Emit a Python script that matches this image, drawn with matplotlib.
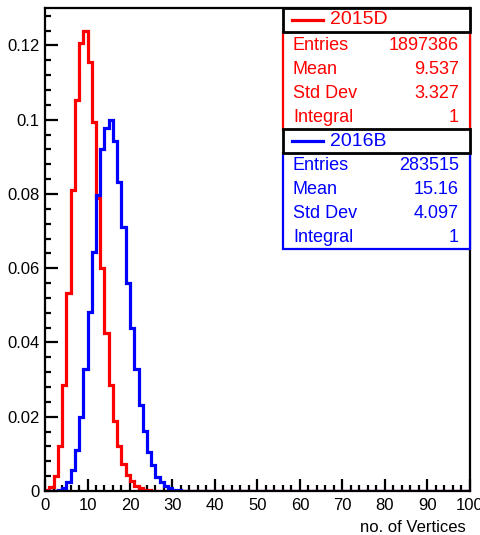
import numpy as np
import matplotlib
matplotlib.use("Agg")
import matplotlib.pyplot as plt
from matplotlib.patches import Rectangle
from matplotlib.ticker import MultipleLocator, FuncFormatter

plt.rcParams['font.family'] = ['Liberation Sans', 'DejaVu Sans']

# ---- data (bin contents, bins of width 1 from 0 to 100) ----
n_bins = 100
x_min, x_max = 0, 100
red_label = "2015D"
red_nonzero = [0.0003, 0.0012, 0.0040, 0.0120, 0.0286, 0.0533, 0.0812, 0.1054,
               0.1207, 0.1239, 0.1155, 0.0993, 0.0790, 0.0600, 0.0425, 0.0286,
               0.0189, 0.0122, 0.0074, 0.0042, 0.0026, 0.0013, 0.0007, 0.0004,
               0.0002, 0.0001]
blue_label = "2016B"
blue_nonzero = [0.0, 0.0, 0.0001, 0.0003, 0.0007, 0.0024, 0.0057, 0.0110,
                0.0200, 0.0328, 0.0483, 0.0645, 0.0797, 0.0920, 0.0977, 0.0998,
                0.0942, 0.0832, 0.0711, 0.0560, 0.0439, 0.0328, 0.0232, 0.0162,
                0.0106, 0.0070, 0.0039, 0.0025, 0.0013, 0.0007, 0.0004, 0.0002,
                0.0001]
red_stats = [("Entries", "1897386"), ("Mean", "9.537"), ("Std Dev", "3.327"), ("Integral", "1")]
blue_stats = [("Entries", "283515"), ("Mean", "15.16"), ("Std Dev", "4.097"), ("Integral", "1")]
x_title = "no. of Vertices"

red_vals = np.zeros(n_bins); red_vals[:len(red_nonzero)] = red_nonzero
blue_vals = np.zeros(n_bins); blue_vals[:len(blue_nonzero)] = blue_nonzero
edges = np.linspace(x_min, x_max, n_bins + 1)

W, H = 481, 535
dpi = 100
fig = plt.figure(figsize=(W / dpi, H / dpi), dpi=dpi)
L, R, T, B = 45, 470, 8, 491
ax = fig.add_axes([L / W, 1 - B / H, (R - L) / W, (B - T) / H])

ax.stairs(red_vals, edges, color=(1, 0, 0), lw=2.3, baseline=0, zorder=3)
ax.stairs(blue_vals, edges, color=(0, 0, 1), lw=2.3, baseline=0, zorder=4)

ax.set_xlim(x_min, x_max)
ax.set_ylim(0, 1.05 * max(red_vals.max(), blue_vals.max()))

ax.xaxis.set_major_locator(MultipleLocator(10))
ax.xaxis.set_minor_locator(MultipleLocator(2))
ax.yaxis.set_major_locator(MultipleLocator(0.02))
ax.yaxis.set_minor_locator(MultipleLocator(0.004))
ax.yaxis.set_major_formatter(FuncFormatter(lambda v, p: f"{v:g}"))
ax.xaxis.set_major_formatter(FuncFormatter(lambda v, p: f"{v:g}"))

ax.tick_params(which='both', direction='in', top=False, right=False, width=1.6, colors='black')
ax.tick_params(which='major', length=9, labelsize=12)
ax.tick_params(which='minor', length=4.5)
ax.tick_params(axis='x', which='major', pad=5)
ax.tick_params(axis='y', which='major', pad=4)
for s in ax.spines.values():
    s.set_linewidth(1.6)
    s.set_zorder(5)

fig.text(466 / W, 1 - 527 / H, x_title, ha='right', va='center', fontsize=12)

# ---- legend / stats boxes in pixel coordinates ----
ov = fig.add_axes([0, 0, 1, 1], zorder=10)
ov.set_xlim(0, W); ov.set_ylim(H, 0); ov.axis('off')

def block(y0, label, color, stats, rows_y):
    y_title_bot = y0 + 24
    y_end = rows_y[-1] + 12
    ov.add_patch(Rectangle((283, y_title_bot), 187, y_end - y_title_bot, fc='white', ec=color, lw=1.6))
    ov.add_patch(Rectangle((283, y0), 187, 24, fc='white', ec='black', lw=2.0))
    ym = y0 + 12
    ov.plot([292, 323], [ym, ym], color=color, lw=2.3)
    ov.text(330, ym, label, color=color, fontsize=14, va='center', ha='left')
    for (k, v), yy in zip(stats, rows_y):
        ov.text(293, yy, k, color=color, fontsize=13, va='center', ha='left')
        ov.text(459, yy, v, color=color, fontsize=13, va='center', ha='right')

block(8, red_label, (1, 0, 0), red_stats, [46, 70, 94, 118])
block(129, blue_label, (0, 0, 1), blue_stats, [166, 190, 214, 237])

fig.savefig("out.png", dpi=dpi)
